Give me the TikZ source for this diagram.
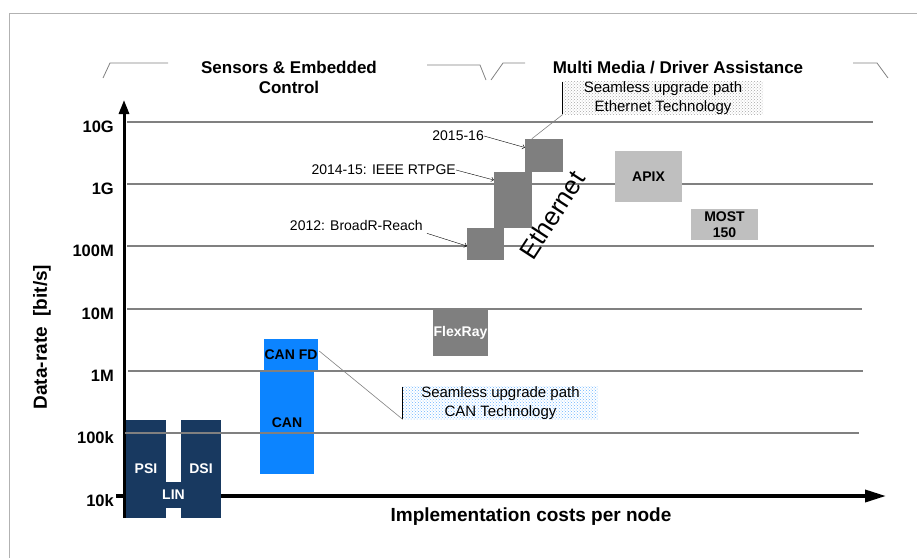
\documentclass[tikz,border=0pt]{standalone}
\usepackage{fontspec}
\setmainfont{Liberation Sans}
\usepackage{tikz}
\usetikzlibrary{arrows.meta,patterns,positioning}
\definecolor{navy}{RGB}{24,57,96}
\definecolor{canblue}{RGB}{12,132,255}
\definecolor{ethgray}{RGB}{127,127,127}
\definecolor{ltgray}{RGB}{191,191,191}
\definecolor{gridgray}{RGB}{128,128,128}
\tikzset{bus/.style={inner sep=0pt,font=\fontsize{14}{16}\selectfont\bfseries,align=center},
  ticklab/.style={anchor=east,inner sep=0pt,font=\fontsize{16.5}{18}\selectfont\bfseries},
  hdr/.style={font=\fontsize{17}{20}\selectfont\bfseries,align=center},
  yrs/.style={inner sep=0pt,font=\fontsize{14}{16}\selectfont},
  upgrade/.style={inner sep=0pt,align=center,font=\fontsize{15}{18.5}\selectfont},
  gridln/.style={gridgray,line width=2.5pt},
  brk/.style={gray,line width=0.8pt}}

\begin{document}
\begin{tikzpicture}[x=1pt,y=-1pt,>=Straight Barb]
    \useasboundingbox (0,0) rectangle (917,557);
    \draw [black!30,line width=1pt] (9,13) rectangle (940,580);

    \draw [brk] (103,78) -- (110,63) -- (168,63);
    \draw [brk] (427,65) -- (480,65) -- (486,80);
    \draw [brk] (491,80) -- (503,63) -- (525,63);
    \draw [brk] (853,63) -- (877,63) -- (888,78);
    \node[hdr] (sens) at (289,77) {Sensors \& Embedded\\Control};
    \node[hdr] (mm) at (678,68) {Multi Media / Driver Assistance};

    \foreach \yy/\xe in {122/873,184/873,246/874,309/862}
        \draw [gridln] (127,\yy) -- (\xe,\yy);
    \foreach \lab/\yy in {10G/122,1G/184,100M/246,10M/309,1M/371,100k/433,10k/496}
        \node[ticklab] (t\lab) at (114,\yy+5) {\lab};

    \draw [-{Triangle[length=14pt,width=10pt]},line width=3pt] (124,518) -- (124,100);
    \draw [-{Triangle[length=21pt,width=12pt]},line width=3.5pt] (116,496) -- (886,496);
    \node[rotate=90,font=\fontsize{19}{22}\selectfont\bfseries] (ylab) at (42,337) {Data-rate~~[bit/s]};
    \node[font=\fontsize{19}{22}\selectfont\bfseries] (xlab) at (531,517) {Implementation costs per node};

    \node[bus,fill=navy,text=white,minimum width=40pt,minimum height=98pt] (psi) at (146,469) {PSI};
    \node[bus,fill=navy,text=white,minimum width=40pt,minimum height=98pt] (dsi) at (201,469) {DSI};
    \node[bus,fill=navy,text=white,minimum width=95pt,minimum height=26pt] (lin) at (173.5,495) {LIN};
    \node[bus,fill=canblue,minimum width=54pt,minimum height=103pt] (can) at (287,422.5) {CAN};
    \node[bus,fill=canblue,minimum width=54pt,minimum height=32pt] (canfd) at (291,355) {CAN FD};
    \node[bus,fill=ethgray,text=white,minimum width=55pt,minimum height=46pt] (flex) at (460.5,333) {FlexRay};
    \node[bus,fill=ltgray,minimum width=67pt,minimum height=51pt] (apix) at (648.5,176.5) {APIX};
    \node[bus,fill=ltgray,minimum width=67pt,minimum height=31pt] (most) at (724.5,224.5) {MOST\\150};

    \node[fill=ethgray,minimum width=37pt,minimum height=32pt] (e3) at (485.5,244) {};
    \node[fill=ethgray,minimum width=38pt,minimum height=56pt] (e2) at (513,200) {};
    \node[fill=ethgray,minimum width=38pt,minimum height=33pt] (e1) at (544,155.5) {};
    \node[rotate=57,inner sep=0pt,font=\fontsize{26}{28}\selectfont] (eth) at (552,215) {Ethernet};

    \draw [gridln] (128,371) -- (863,371);
    \draw [gridln] (125,433) -- (859,433);

    \node[yrs,anchor=east] (l15) at (484,136) {2015-16};
    \node[yrs,anchor=east] (l14) at (456,170) {2014-15: IEEE RTPGE};
    \node[yrs,anchor=east] (l12) at (423,225) {2012: BroadR-Reach};
    \draw [->] (l15.east) to [] ([yshift=8pt]e1.west);
    \draw [->] (l14.east) to [] ([yshift=20pt]e2.west);
    \draw [->] ([xshift=4pt,yshift=-3pt]l12.south east) to [] ([yshift=-2pt]e3.west);

    \node[upgrade,pattern=crosshatch dots,pattern color=black!35,minimum width=200pt,minimum height=32pt] (ethpath) at (663,98) {Seamless upgrade path\\Ethernet Technology};
    \node[upgrade,pattern=crosshatch dots,pattern color=canblue!60,minimum width=195pt,minimum height=32pt] (canpath) at (500.5,403) {Seamless upgrade path\\CAN Technology};
    \draw [black,line width=0.8pt] (ethpath.north west) -- (ethpath.south west);
    \draw [black,line width=0.8pt] (canpath.north west) -- (canpath.south west);
    \draw [gray,line width=0.6pt] ([xshift=7pt]e1.north west) to [] (ethpath.south west);
    \draw [gray,line width=0.6pt] ([xshift=1pt,yshift=4pt]canfd.east) to [] (canpath.south west);
\end{tikzpicture}
\end{document}
